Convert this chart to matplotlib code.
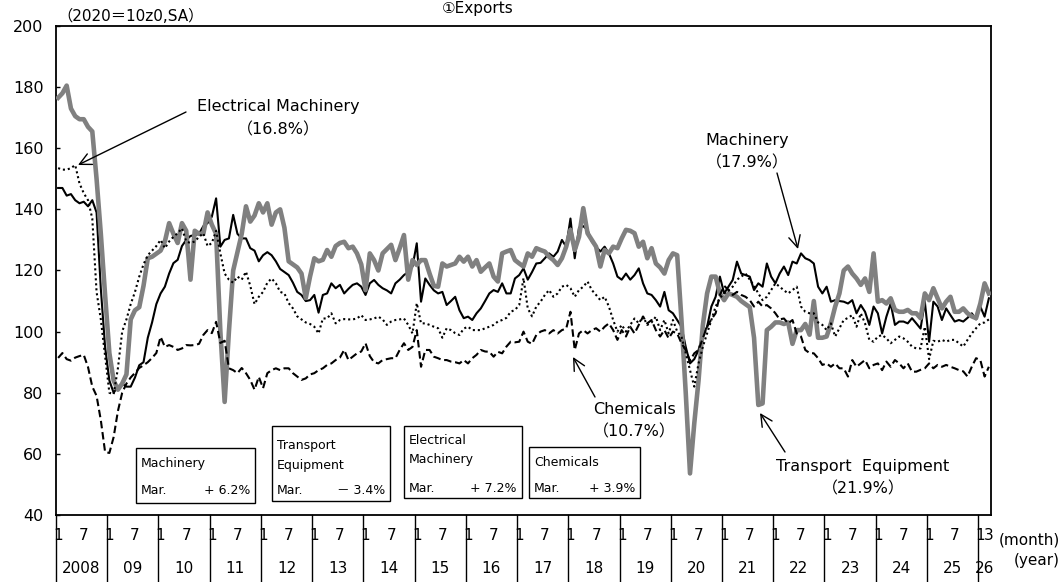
import matplotlib
matplotlib.use('Agg')
import matplotlib.pyplot as plt
import matplotlib.transforms as mtransforms
from matplotlib.patches import Rectangle, FancyArrowPatch
import numpy as np

plt.rcParams['font.family'] = ['DejaVu Sans', 'Noto Sans CJK JP']

# ---------------- data (monthly, Jan 2008 - Mar 2026, 2020=100, SA) ----------------
machinery = [
    147, 147, 144.5, 145, 143, 142, 142.5, 141, 143, 139, 114, 95,              # 2008
    84, 80, 82, 83, 82, 82, 85, 89, 90, 98, 103, 109,                            # 2009
    112.5, 114.7, 119, 122.4, 123.5, 128, 130, 131.3, 131.6, 132, 134.5, 135.5,  # 2010
    137.6, 143.6, 127.8, 130, 130.5, 138.2, 132, 130.5, 130.5, 127.3, 126.5, 123,  # 2011
    125, 126, 125, 123, 120.5, 119.5, 118.5, 116, 113, 112, 110, 110.3,          # 2012
    112, 106.2, 112, 112.5, 115.8, 114.2, 115.3, 112.5, 114, 115.3, 115.8, 114.7,  # 2013
    112, 115.8, 116.9, 115.3, 114.2, 113.5, 112.5, 115.8, 117, 118.5, 119.5, 121.3,  # 2014
    128.9, 109.8, 117.4, 115.3, 113.5, 112.5, 113, 108.7, 110, 111.4, 107, 104.4,  # 2015
    104.9, 103.8, 106, 107.6, 110, 112.5, 113.6, 113, 115.8, 112.5, 112.5, 117.4,  # 2016
    118.5, 120.7, 117, 119.5, 122.3, 122.5, 124, 125.6, 124.5, 126.2, 130, 127.8,  # 2017
    137, 124, 134, 134.5, 133.3, 129.4, 127.8, 126.2, 127.8, 125.6, 122.3, 118,  # 2018
    117, 119, 117, 118.5, 120.7, 115.8, 112.5, 112, 110.3, 108.2, 113, 107,      # 2019
    106, 103.8, 101.6, 95, 89.6, 91, 94, 99, 101.6, 108.2, 111.4, 118,           # 2020
    112.5, 114.7, 116.9, 122.9, 119, 118.5, 118, 113.6, 115.8, 114.7, 122.3, 118,  # 2021
    115.8, 119, 121.3, 118.5, 122.9, 122.3, 125.6, 124, 123.4, 122.3, 114.7, 112.5,  # 2022
    114.7, 109.8, 110.3, 110, 109.8, 109.2, 110.3, 106, 108.7, 106.5, 102.2, 108.2,  # 2023
    106, 99.4, 104.9, 109.2, 102.2, 103.3, 103.3, 102.7, 104.4, 102.7, 101, 109.8,  # 2024
    96.7, 109.8, 108.2, 103.8, 107.6, 105.4, 103.3, 103.8, 103.3, 104.5, 106, 104,  # 2025
    108.2, 104.9, 110.9,                                                         # 2026
]

transport = [
    176.5, 178, 180.5, 173, 170.5, 169.5, 169.5, 167, 165.5, 150, 132, 112,
    93, 84, 81, 83, 86, 104, 107, 108, 115, 124, 124.5, 125.5,
    126.5, 129.5, 135.5, 132, 129, 135.5, 133, 117, 133, 132, 132, 139,
    135, 132, 100, 77, 100, 120, 126, 132, 141, 136, 138, 142,
    139, 142, 135, 139, 140, 134, 123, 122, 121, 119, 111, 118,
    124, 123, 123.5, 126.7, 124.5, 128, 129, 129.4, 127.3, 127.8, 125.6, 122,
    113.6, 125.6, 123.4, 120, 125.6, 127, 128.4, 123.4, 127.3, 131.6, 117, 123.4,
    121.8, 123.4, 123.4, 119, 115, 114.7, 122.3, 121.3, 121.8, 122.3, 124.5, 122.9,
    124.5, 121.3, 123.4, 119.6, 121, 122.3, 118, 116.4, 125.6, 126.2, 126.7, 123.4,
    122.3, 121.3, 125.6, 124.5, 127.3, 126.7, 126.2, 124.5, 123.4, 121.8, 124, 127.8,
    133.3, 126.7, 131, 140.4, 132.2, 130, 127.8, 121.3, 126.7, 125.6, 127.8, 127.3,
    130.5, 133.3, 133, 132.2, 127.8, 129.4, 124, 127.3, 122.3, 121, 119, 123.4,
    125.6, 125, 103.8, 80, 53.6, 70, 84, 102, 112.5, 118, 118, 112.5,
    110.3, 112.5, 112, 111.4, 110, 109, 108, 98, 76, 76.5, 100.5, 101.6,
    103, 103, 102.5, 103, 96, 100.5, 100.5, 102.5, 99, 110, 98, 98,
    98.4, 102.7, 108.2, 112.5, 120, 121.3, 119, 117.4, 115.3, 117.4, 113, 125.6,
    109.8, 110.3, 109.2, 110.9, 107.1, 106.5, 106.5, 107.1, 106, 106, 104.4, 112.5,
    110.3, 114.2, 110.9, 107.6, 109.8, 111.4, 106.5, 106.5, 107.6, 106, 105, 104.4,
    109.2, 115.8, 112.5,
]

electrical = [
    153.5, 153, 153, 153.5, 154.5, 148.5, 145.3, 143, 137, 113, 104, 92,
    80, 79.5, 88, 100, 104, 109, 113, 118, 122, 125, 126.5, 128,
    130, 127.3, 129.5, 131, 132.2, 133.8, 129.5, 129, 129.5, 131, 132.2, 128,
    129, 133, 125.6, 119, 117, 116, 118, 117, 119.6, 115, 109, 111.4,
    113, 116, 117.4, 115.8, 113, 112.5, 109.3, 107.6, 105, 104, 103, 102.5,
    101.6, 99.4, 104.3, 104.3, 106, 102.7, 103.8, 104.1, 104, 104, 104.3, 105.4,
    103.8, 104, 104.3, 104.9, 104, 102.2, 103.3, 103.8, 104, 104.3, 102.2, 99.4,
    109.3, 102.7, 102.7, 102.2, 101.6, 101.1, 98, 101.1, 100.5, 99.5, 98.9, 101,
    101.6, 100.5, 100.5, 100.5, 101.1, 101.6, 102.2, 103.3, 103.8, 104.5, 106.5, 107.1,
    108.7, 117.5, 107.6, 105, 108.2, 109.8, 112, 113.6, 111.4, 112.5, 114.7, 115.3,
    114.2, 111.4, 113.6, 114.7, 116.4, 113.6, 112, 110.3, 111.4, 108.2, 103.8, 100,
    102.2, 100, 102.2, 104.3, 102.7, 104.9, 102.2, 103, 104.9, 100.5, 103.8, 99.4,
    103.8, 100, 98.4, 93, 87.4, 82, 89.6, 95, 99.4, 103.8, 108.2, 111,
    112.5, 113.5, 114.7, 117, 118, 119, 117, 115, 112.5, 110.3, 111.4, 113.6,
    115.8, 114.7, 113.5, 112.5, 113.6, 114.7, 108.2, 106.5, 106, 106, 103, 102.2,
    100.5, 102.7, 98.4, 101.1, 103.8, 104.5, 105.4, 101.6, 106, 102.7, 97.3, 96.7,
    98.4, 98.9, 97.8, 96.2, 97.3, 98.4, 97.8, 96.7, 95.1, 94.5, 94.5, 101.6,
    91, 97, 96.7, 97.3, 96.7, 97.3, 97.3, 96.2, 95.1, 97.3, 99.4, 101.1,
    102.7, 103, 104,
]

chemicals = [
    91.4, 93, 91, 90.5, 91.5, 92, 92.4, 88.4, 82, 79, 71, 60.6,
    60.3, 65.5, 74, 80, 83, 85, 86.5, 88.1, 89, 90, 91.4, 93,
    98.3, 95, 95.6, 95, 94, 94.5, 95.6, 95.5, 95.6, 96, 98.9, 100.5,
    99.5, 103.2, 96.3, 97, 88, 87.4, 86.4, 88.1, 86.4, 84.2, 81, 85.2,
    81.5, 86.4, 87.4, 88, 87.4, 88, 88, 86.4, 85.3, 84.2, 84.7, 86,
    86.4, 87.4, 88, 89.1, 89.6, 90.7, 91.5, 94, 90.7, 91.8, 92.9, 93.5,
    96.2, 92, 90, 89.6, 90.7, 91, 91.3, 91.3, 94, 96.2, 94, 95,
    100.5, 88.5, 94, 94, 91.8, 91.3, 90.7, 90.7, 90.2, 90, 89.6, 90.7,
    89.6, 91.3, 92.4, 94, 93.5, 93.4, 91.8, 93.4, 92.9, 95.1, 96.7, 96.5,
    96.7, 100, 96.7, 96, 98.9, 100, 100.5, 99.4, 100.5, 99.4, 100.5, 101,
    106.5, 94, 99.4, 100.5, 99.4, 100.5, 101.1, 100, 101.6, 102.7, 100.5, 97.3,
    100.5, 98.4, 101.6, 99.4, 102.2, 104.9, 102.7, 103.8, 100.5, 98.4, 100.5, 97.8,
    100, 99.4, 96.2, 94, 90.5, 92.9, 94, 97.8, 101.6, 104, 106, 112,
    115, 113.6, 112, 113, 112, 111.4, 110.3, 108.2, 109.8, 108.2, 108.7, 107.6,
    106, 104, 104.3, 102.7, 103.8, 99.4, 98.4, 94, 93, 92.9, 91.3, 89.1,
    89.6, 88.5, 89.6, 88, 88, 85.3, 90.7, 88.5, 89.6, 90.7, 88, 89.1,
    89.6, 87.4, 90.2, 88.5, 90.7, 89.6, 88, 89.6, 86.9, 86.9, 87.5, 88,
    89.6, 88, 89.1, 88.5, 89.1, 88.5, 88, 87.4, 87, 85.3, 88.5, 91.3,
    90.7, 85.3, 88.5,
]

year_labels = ['2008', '09', '10', '11', '12', '13', '14', '15', '16', '17',
               '18', '19', '20', '21', '22', '23', '24', '25', '26']
y_ticks = [40, 60, 80, 100, 120, 140, 160, 180, 200]

box_texts = [
    (['Machinery'], 'Mar.', '+ 6.2%'),
    (['Transport', 'Equipment'], 'Mar.', '－ 3.4%'),
    (['Electrical', 'Machinery'], 'Mar.', '+ 7.2%'),
    (['Chemicals'], 'Mar.', '+ 3.9%'),
]

n = len(machinery)
assert n == len(transport) == len(electrical) == len(chemicals) == 219

# ---------------- figure ----------------
W, H = 1063, 582
fig = plt.figure(figsize=(W / 100, H / 100), dpi=100)
ax = fig.add_axes([56 / W, 67 / H, 935 / W, 489 / H])

def fx(px):
    return px / W

def fy(py):
    return 1 - py / H

x = np.arange(n) + 0.5
ax.plot(x, machinery, color='black', lw=1.5, zorder=3)
ax.plot(x, transport, color='#808080', lw=3.3, zorder=4)
ax.plot(x, electrical, color='black', lw=1.5, linestyle=(0, (1, 1.4)), zorder=5)
ax.plot(x, chemicals, color='black', lw=1.5, linestyle=(0, (3.6, 1.8)), zorder=6)

ax.set_xlim(0, n)
ax.set_ylim(40, 200)
ax.set_yticks(y_ticks)
ax.set_xticks([])
ax.tick_params(axis='y', direction='in', length=3, width=1, labelsize=11.5, pad=9)
for s in ax.spines.values():
    s.set_linewidth(1.3)

# x-axis: month / year labels and dividers
tr = mtransforms.blended_transform_factory(ax.transData, ax.transAxes)
for k, yl in enumerate(year_labels):
    x0 = 12 * k
    ax.plot([x0, x0], [0, -0.14], transform=tr, clip_on=False, color='black', lw=1)
    ax.text(x0 + 0.5, -0.041, '1', transform=tr, ha='center', va='center', fontsize=11)
    if k < len(year_labels) - 1:
        ax.text(x0 + 6.5, -0.041, '7', transform=tr, ha='center', va='center', fontsize=11)
        ax.text(x0 + 6, -0.110, yl, transform=tr, ha='center', va='center', fontsize=11)
    else:
        ax.text(n - 0.5, -0.041, '3', transform=tr, ha='center', va='center', fontsize=11)
        ax.text(x0 + 1.5, -0.110, yl, transform=tr, ha='center', va='center', fontsize=11)

fig.text(fx(1060), fy(540), '(month)', ha='right', va='center', fontsize=11)
fig.text(fx(1060), fy(560), '(year)', ha='right', va='center', fontsize=11)

# titles
fig.text(fx(478), fy(13), '①Exports', ha='center', va='baseline', fontsize=11)
fig.text(fx(57), fy(21), '（2020＝10z0,SA）', ha='left', va='baseline', fontsize=11)

# annotations
arrow_kw = dict(arrowstyle='->,head_length=0.7,head_width=0.35', color='black',
                lw=1, shrinkA=0, shrinkB=0, mutation_scale=12)

def label(lines, cx, ys, tail, head):
    for t, yy in zip(lines, ys):
        fig.text(fx(cx), fy(yy), t, ha='center', va='center', fontsize=11.5)
    fig.add_artist(FancyArrowPatch(
        (fx(tail[0]), fy(tail[1])), (fx(head[0]), fy(head[1])),
        transform=fig.transFigure, **arrow_kw))

label(['Electrical Machinery', '（16.8%）'], 278, [107, 130], (186, 112), (78, 165))
label(['Machinery', '（17.9%）'], 747, [140, 163], (777, 173), (798, 249))
label(['Chemicals', '（10.7%）'], 634, [410, 432], (595, 397), (573, 357))
label(['Transport  Equipment', '（21.9%）'], 863, [467, 489], (785, 452), (760, 413))

# small boxes
box_geom = [
    (136, 448, 255, 503, [464], 490),
    (272, 426, 390, 501, [446, 465], 490),
    (404, 426, 522, 498, [441, 459], 488),
    (529, 447, 640, 498, [463], 488),
]
for (x0, y0, x1, y1, tys, my), (names, mlab, val) in zip(box_geom, box_texts):
    fig.add_artist(Rectangle((fx(x0), fy(y1)), (x1 - x0) / W, (y1 - y0) / H,
                             transform=fig.transFigure, facecolor='white',
                             edgecolor='black', lw=1, zorder=10))
    for nm, ty in zip(names, tys):
        fig.text(fx(x0 + 5), fy(ty), nm, ha='left', va='center', fontsize=9, zorder=11)
    fig.text(fx(x0 + 5), fy(my), mlab, ha='left', va='center', fontsize=9, zorder=11)
    fig.text(fx(x1 - 5), fy(my), val, ha='right', va='center', fontsize=9, zorder=11)

fig.savefig('out.png', dpi=100)
